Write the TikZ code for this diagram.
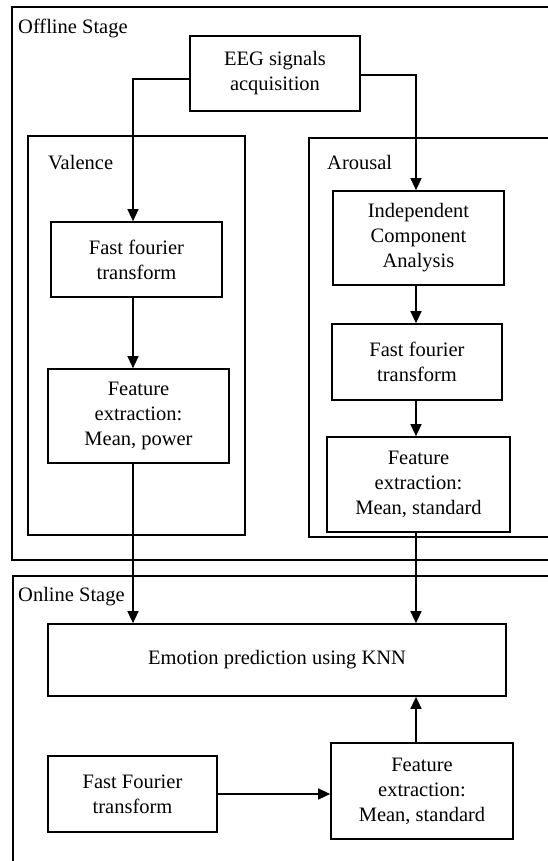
\documentclass[tikz,border=0pt]{standalone}
\usepackage{fontspec}
\setmainfont{Liberation Serif}
\usetikzlibrary{arrows.meta}
\begin{document}
\begin{tikzpicture}[x=1pt,y={(0pt,-1pt)},
  box/.style={draw, line width=1.7pt, align=center, inner sep=0pt, font=\fontsize{20.5}{25}\selectfont},
  frame/.style={draw, line width=1.5pt},
  arr/.style={line width=1.4pt, -{Triangle[length=12pt,width=11pt]}},
  lbl/.style={anchor=base west, inner sep=0pt, font=\fontsize{20.5}{25}\selectfont}]
\useasboundingbox (0,0) rectangle (548,861);
\clip (0,0) rectangle (548,861);
% frames
\draw[frame, line width=2pt] (12,7) rectangle (580,560);
\draw[frame] (28,136) rectangle (245,535);
\draw[frame] (309,138) rectangle (580,537);
\draw[frame] (13,576) rectangle (580,900);
% labels
\node[lbl] (off) at (18,34) {Offline Stage};
\node[lbl] (val) at (48,169) {Valence};
\node[lbl] (aro) at (327,169) {Arousal};
\node[lbl] (onl) at (18,601) {Online Stage};
% boxes
\node[box, minimum width=170pt, minimum height=75pt] (eeg) at (275,73.5) {EEG signals\\acquisition};
\node[box, minimum width=171pt, minimum height=75pt] (fftv) at (136.5,259.5) {Fast fourier\\transform};
\node[box, minimum width=181pt, minimum height=94pt] (fev) at (138.5,416) {Feature\\extraction:\\Mean, power};
\node[box, minimum width=171pt, minimum height=94pt] (ica) at (418.5,238) {Independent\\Component\\Analysis};
\node[box, minimum width=170pt, minimum height=76pt] (ffta) at (417,362) {Fast fourier\\transform};
\node[box, minimum width=183pt, minimum height=95pt] (fea) at (418.5,484.5) {Feature\\extraction:\\Mean, standard};
\node[box, minimum width=458pt, minimum height=72pt] (knn) at (277,660) {Emotion prediction using KNN};
\node[box, minimum width=169pt, minimum height=76pt] (ffto) at (132.5,794) {Fast Fourier\\transform};
\node[box, minimum width=182pt, minimum height=96pt] (feo) at (422,791) {Feature\\extraction:\\Mean, standard};
% column coordinates
\coordinate (vx) at (133,0);
\coordinate (ax) at (416,0);
% connectors
\draw[arr] ([yshift=-5.5pt]eeg.west) -| (vx |- fftv.north);
\draw[arr] ([yshift=-1.5pt]eeg.east) -| (ax |- ica.north);
\draw[arr] (vx |- fftv.south) -- (vx |- fev.north);
\draw[arr] (vx |- fev.south) -- (vx |- knn.north);
\draw[arr] (ax |- ica.south) -- (ax |- ffta.north);
\draw[arr] (ax |- ffta.south) -- (ax |- fea.north);
\draw[arr] (ax |- fea.south) -- (ax |- knn.north);
\draw[arr] (ax |- feo.north) -- (ax |- knn.south);
\draw[arr] (ffto.east) -- (feo.west |- ffto.east);
\end{tikzpicture}
\end{document}
